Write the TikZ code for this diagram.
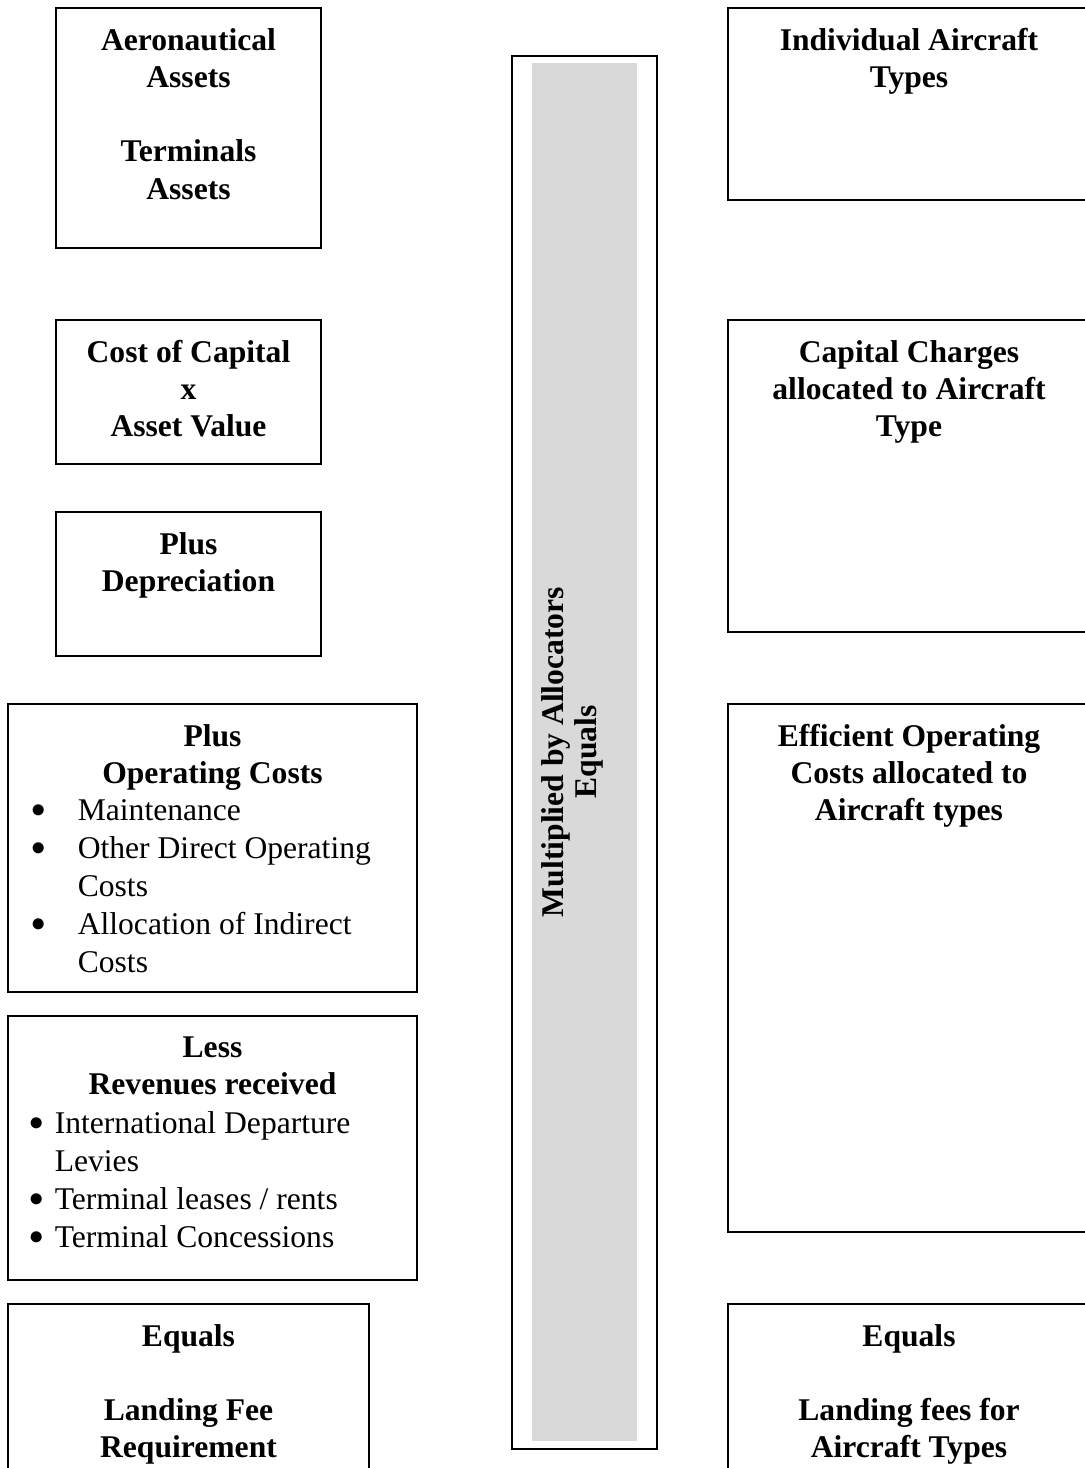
\documentclass[tikz,border=0pt]{standalone}
\usepackage{fontspec}
\setmainfont{Liberation Serif}
\definecolor{allocgray}{HTML}{D9D9D9}
\newcommand{\listdot}[1]{\makebox[0pt][r]{\raisebox{1.5pt}{$\bullet$}\hspace{#1}}}

\begin{document}
\begin{tikzpicture}[x=0.5pt, y=-0.5pt, line width=0.8pt,
    title/.style={anchor=north, inner sep=0pt, align=center, font=\fontsize{15.8}{18.6}\selectfont\bfseries},
    items/.style={anchor=north west, inner sep=0pt, align=left, font=\fontsize{15.8}{19}\selectfont}]
    \clip (0,0) rectangle (1085,1468);
    % left column
    \draw (56,8) rectangle (321,248);
    \node[title] (aero) at (188.5,27.5) {Aeronautical\\Assets\\[18.6pt]Terminals\\Assets};
    \draw (56,320) rectangle (321,464);
    \node[title] (capcost) at (188.5,339.5) {Cost of Capital\\x\\Asset Value};
    \draw (56,512) rectangle (321,656);
    \node[title] (deprec) at (188.5,531.5) {Plus\\Depreciation};
    \draw (8,704) rectangle (417,992);
    \node[title] (opcost) at (212.5,723.5) {Plus\\Operating Costs};
    \node[items] (opitems) at (77,798.5) {\listdot{16pt}Maintenance\\\listdot{16pt}Other Direct Operating\\Costs\\\listdot{16pt}Allocation of Indirect\\Costs};
    \draw (8,1016) rectangle (417,1280);
    \node[title] (revenue) at (212.5,1035.5) {Less\\Revenues received};
    \node[items] (revitems) at (54,1110.5) {\listdot{5.5pt}International Departure\\Levies\\\listdot{5.5pt}Terminal leases / rents\\\listdot{5.5pt}Terminal Concessions};
    \draw (8,1304) rectangle (369,1500);
    \node[title] (feereq) at (188.5,1323.5) {Equals\\[18.6pt]Landing Fee\\Requirement};
    % allocator bar
    \fill[allocgray] (532,63) rectangle (637,1441);
    \draw[line width=0.9pt] (512,56) rectangle (657,1449);
    \node[title, rotate=90, font=\fontsize{15.8}{16.8}\selectfont\bfseries] (alloc) at (540.5,752) {Multiplied by Allocators\\Equals};
    % right column
    \draw (728,8) rectangle (1090,200);
    \node[title] (types) at (909,27.5) {Individual Aircraft\\Types};
    \draw (728,320) rectangle (1090,632);
    \node[title] (capcharge) at (909,339.5) {Capital Charges\\allocated to Aircraft\\Type};
    \draw (728,704) rectangle (1090,1232);
    \node[title] (effcost) at (909,723.5) {Efficient Operating\\Costs allocated to\\Aircraft types};
    \draw (728,1304) rectangle (1090,1500);
    \node[title] (fees) at (909,1323.5) {Equals\\[18.6pt]Landing fees for\\Aircraft Types};
\end{tikzpicture}
\end{document}
